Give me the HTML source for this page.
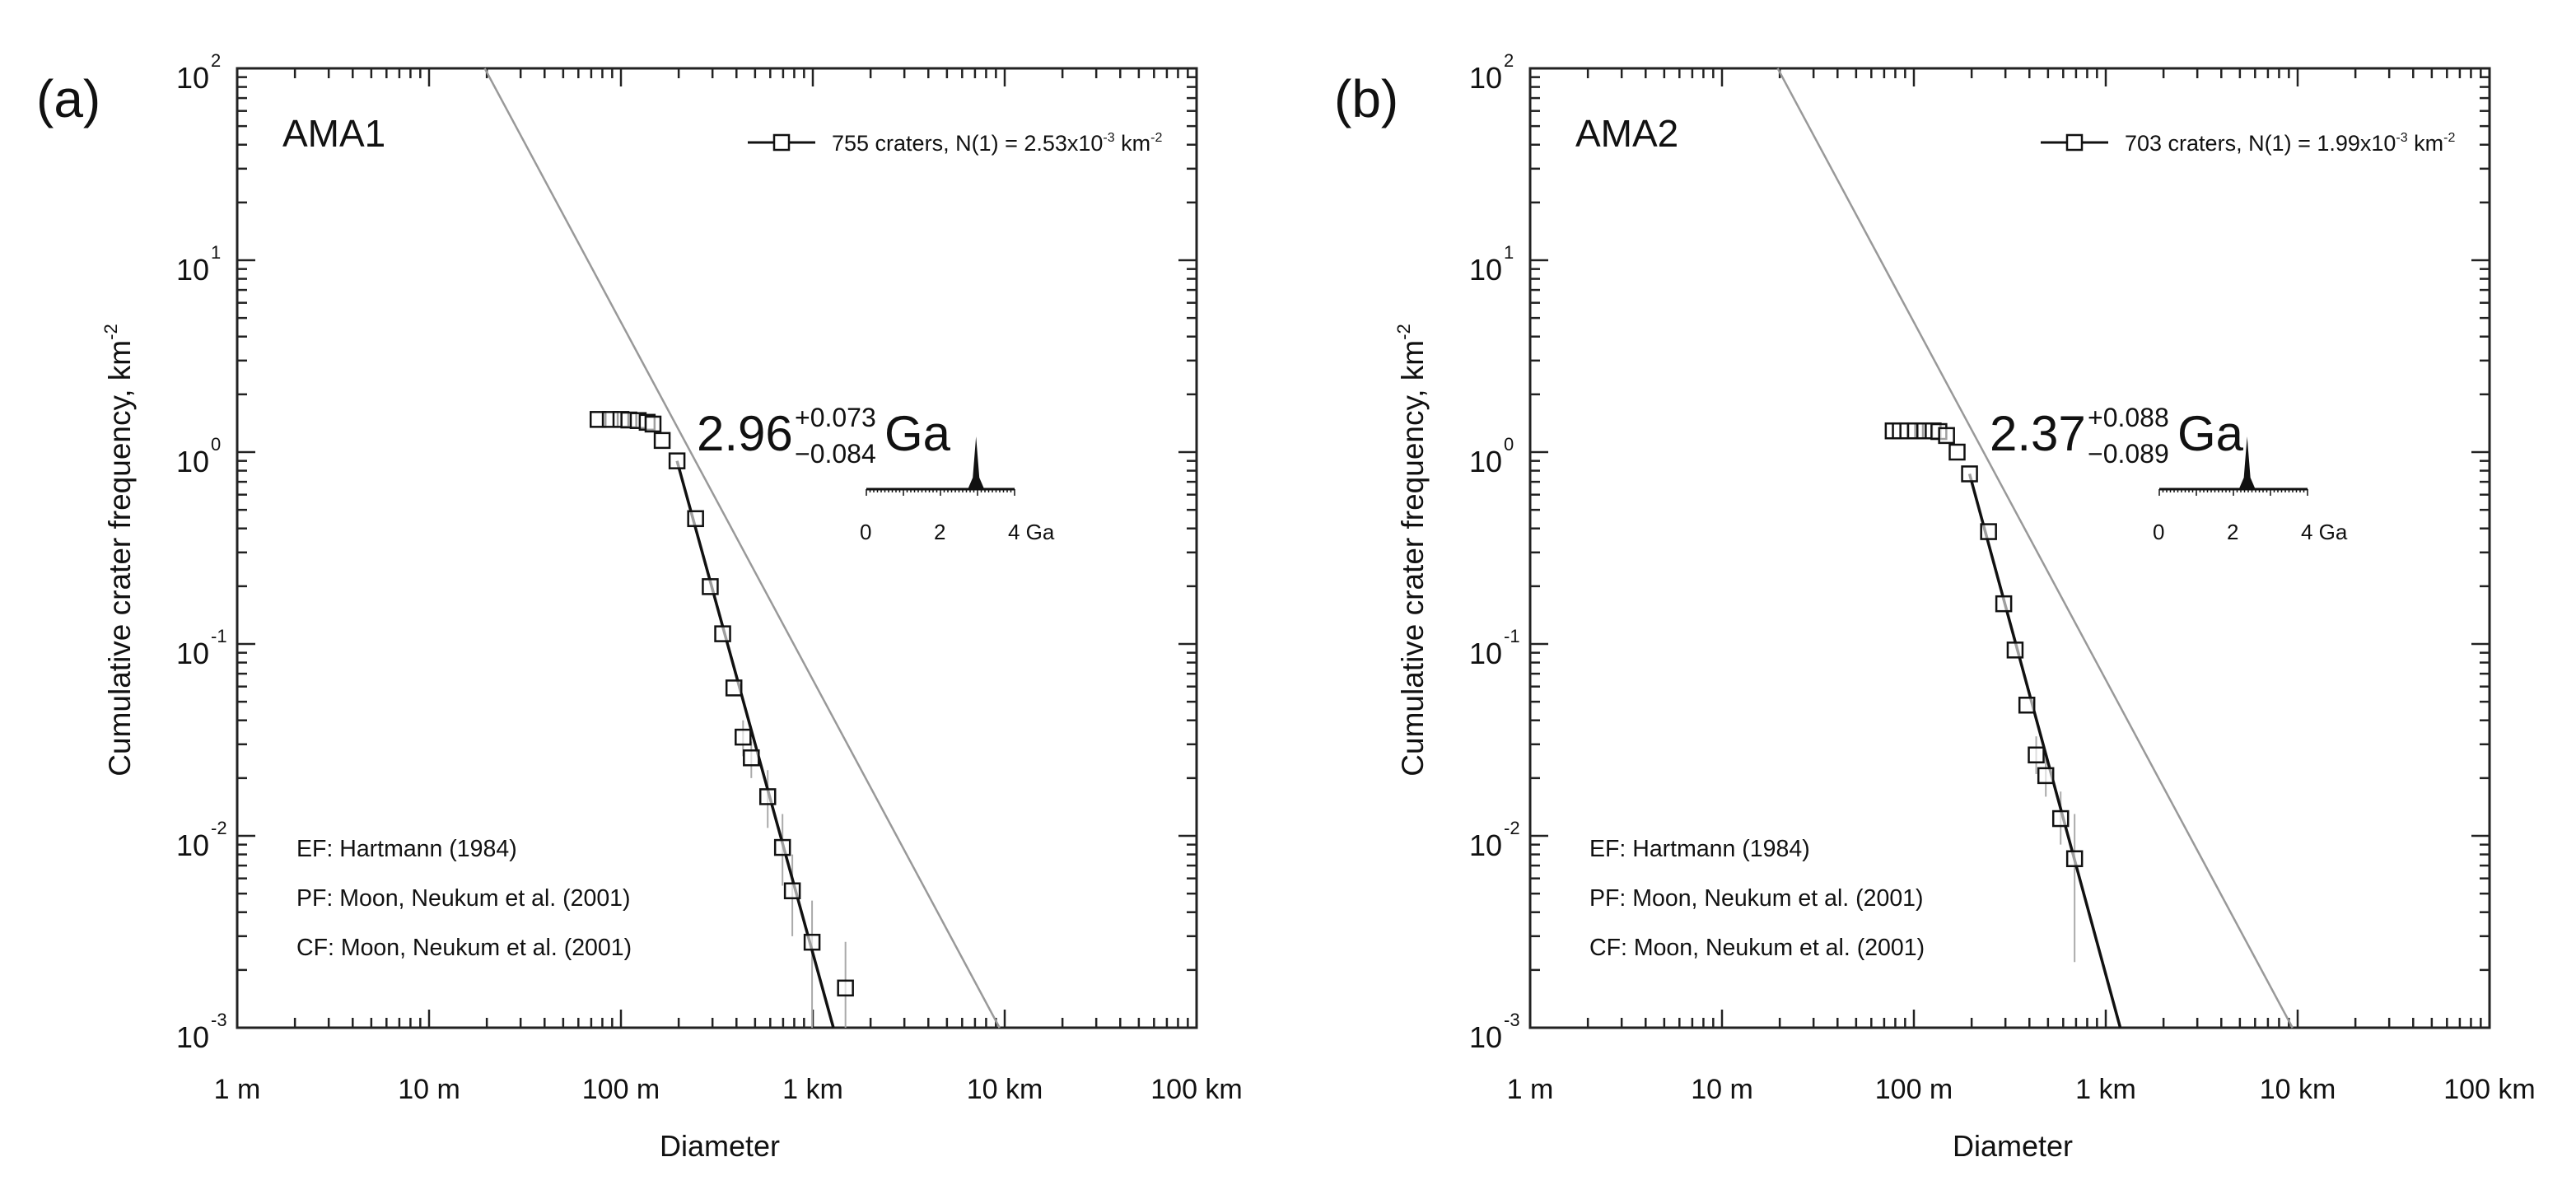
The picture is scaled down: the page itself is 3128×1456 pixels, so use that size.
<!DOCTYPE html>
<html><head><meta charset="utf-8"><style>
html,body{margin:0;padding:0;background:#fff;}
svg{display:block;font-family:"Liberation Sans",Arial,sans-serif;}
</style></head><body>
<svg id="fig" width="3128" height="1456" viewBox="0 0 3128 1456" xmlns="http://www.w3.org/2000/svg">
<rect x="0" y="0" width="3128" height="1456" fill="#fff"/>
</svg>
<script>
// ---- data (diameters in km, frequencies in km^-2) ----
const diamA = [0.076,0.088,0.100,0.110,0.123,0.137,0.147,0.164,0.196,0.245,0.292,0.339,0.388,0.433,0.478,0.582,0.695,0.782,0.991,1.48];
const freqA = [1.48,1.48,1.48,1.47,1.46,1.43,1.40,1.15,0.90,0.45,0.199,0.113,0.059,0.0327,0.0255,0.016,0.0087,0.00517,0.00279,0.00161];
const errLoA = [null,null,null,null,null,null,null,null,null,null,null,null,null,0.026,0.020,0.011,0.0055,0.0030,0.001,0.001];
const errHiA = [null,null,null,null,null,null,null,null,null,null,null,null,null,0.040,0.031,0.022,0.013,0.008,0.0046,0.0028];
const diamB = [0.078,0.085,0.093,0.102,0.114,0.126,0.135,0.148,0.168,0.195,0.245,0.294,0.337,0.388,0.434,0.487,0.582,0.688];
const freqB = [1.29,1.29,1.29,1.29,1.29,1.29,1.28,1.22,1.0,0.77,0.385,0.162,0.093,0.048,0.0264,0.0206,0.0123,0.0076];
const errLoB = [null,null,null,null,null,null,null,null,null,null,null,null,null,null,0.021,0.016,0.009,0.0022];
const errHiB = [null,null,null,null,null,null,null,null,null,null,null,null,null,null,0.033,0.026,0.017,0.013];
const fitA = [[0.196,0.90],[1.28,0.001]];
const fitB = [[0.195,0.77],[1.19,0.001]];
const refLine = [[0.0195,100],[9.4,0.001]];
const agesA = 2.96, agesB = 2.37;
const xTickLabels = ["1 m","10 m","100 m","1 km","10 km","100 km"];
const yTickExp = ["2","1","0","-1","-2","-3"];

const NS="http://www.w3.org/2000/svg";
const svg=document.getElementById('fig');
const DEC=233;
function mk(tag,attrs,parent){const e=document.createElementNS(NS,tag);for(const k in attrs)e.setAttribute(k,attrs[k]);(parent||svg).appendChild(e);return e;}

function panel(cfg){
  const L=cfg.left, T=83, S=DEC*5, R=L+S, B=T+S;
  const X=d=>L+(Math.log10(d*1000))*DEC;
  const Y=n=>T+(2-Math.log10(n))*DEC;
  const g=mk('g',{});
  
  
  let t=mk('text',{x:cfg.lblX,y:142,'font-size':64,fill:'#111'},g);t.textContent=cfg.letter;
  
  const tk=mk('g',{stroke:'#222','stroke-width':2.5},g);
  
  for(let dec=0;dec<5;dec++){
    for(let m=1;m<10;m++){
      const v=Math.log10(m)+dec, len=(m===1)?22:12;
      const px=L+v*DEC, py=B-v*DEC;
      mk('line',{x1:px,y1:B,x2:px,y2:B-len},tk);
      mk('line',{x1:px,y1:T,x2:px,y2:T+len},tk);
      mk('line',{x1:L,y1:py,x2:L+len,y2:py},tk);
      mk('line',{x1:R,y1:py,x2:R-len,y2:py},tk);
    }
  }
  const fr=mk('rect',{x:L,y:T,width:S,height:S,fill:'none',stroke:'#222','stroke-width':3},g);
  
  xTickLabels.forEach((s,i)=>{const e=mk('text',{x:L+i*DEC,y:1334,'font-size':34,'text-anchor':'middle',fill:'#111'},g);e.textContent=s;
    });
  yTickExp.forEach((s,i)=>{const e=mk('text',{x:L-34,y:T+i*DEC+24,'font-size':36,'text-anchor':'end',fill:'#111'},g);e.textContent='10';
    
    const sp=mk('text',{x:L-32,y:T+i*DEC-2,'font-size':22,fill:'#111'},g);sp.textContent=s;
    });
  let xt=mk('text',{x:L+586,y:1404,'font-size':36,'text-anchor':'middle',fill:'#111'},g);xt.textContent='Diameter';
  
  let yt=mk('text',{x:0,y:0,'font-size':37,'text-anchor':'middle',fill:'#111',transform:`translate(${L-130},668) rotate(-90)`},g);
  yt.innerHTML='Cumulative crater frequency, km<tspan dy="-16" font-size="22">-2</tspan>';
  
  let an=mk('text',{x:L+55,y:178,'font-size':46,fill:'#111'},g);an.textContent=cfg.area;
  
  const lg=mk('g',{},g);
  mk('line',{x1:L+620,y1:173,x2:L+702,y2:173,stroke:'#111','stroke-width':3},lg);
  mk('rect',{x:L+652,y:164,width:18,height:18,fill:'#fff',stroke:'#111','stroke-width':2.5},lg);
  let lt=mk('text',{x:L+722,y:183,'font-size':27,fill:'#111'},lg);
  lt.innerHTML=cfg.legend+'x10<tspan dy="-11" font-size="16">-3</tspan><tspan dy="11"> km</tspan><tspan dy="-11" font-size="16">-2</tspan>';
  ["EF: Hartmann (1984)","PF: Moon, Neukum et al. (2001)","CF: Moon, Neukum et al. (2001)"].forEach((s,i)=>{
    const e=mk('text',{x:L+72,y:1040+i*60,'font-size':28.5,fill:'#111'},g);e.textContent=s;
    });
  const rl=mk('line',{x1:X(refLine[0][0]),y1:Y(refLine[0][1]),x2:X(refLine[1][0]),y2:Y(refLine[1][1]),stroke:'#999','stroke-width':2.5},g);
  
  cfg.diam.forEach((d,i)=>{if(cfg.lo[i]==null)return;
    const e=mk('line',{x1:X(d),y1:Y(cfg.hi[i]),x2:X(d),y2:Math.min(B,Y(cfg.lo[i])),stroke:'#aaa','stroke-width':2},g);
    });
  const fl=mk('line',{x1:X(cfg.fit[0][0]),y1:Y(cfg.fit[0][1]),x2:X(cfg.fit[1][0]),y2:Y(cfg.fit[1][1]),stroke:'#111','stroke-width':3.5},g);
  
  cfg.diam.forEach((d,i)=>{
    const p=mk('rect',{x:X(d)-9,y:Y(cfg.freq[i])-9,width:18,height:18,fill:'#fff','fill-opacity':0.6,stroke:'#111','stroke-width':2.5},g);
    });
  const at=mk('g',{},g);
  let a1=mk('text',{x:L+558,y:547,'font-size':60,fill:'#111'},at);a1.textContent=cfg.age.toFixed(2);
  let a2=mk('text',{x:L+677,y:518,'font-size':32,fill:'#111'},at);a2.textContent=cfg.up;
  let a3=mk('text',{x:L+677,y:562,'font-size':32,fill:'#111'},at);a3.textContent=cfg.dn;
  let a4=mk('text',{x:L+786,y:547,'font-size':60,fill:'#111'},at);a4.textContent='Ga';
  const ins=mk('g',{},g);
  const ix0=L+764, iw=180, iy=594;
  mk('line',{x1:ix0,y1:iy,x2:ix0+iw,y2:iy,stroke:'#111','stroke-width':3},ins);
  for(let k=0;k<=40;k++){const len=(k%10===0)?8:4;mk('line',{x1:ix0+k*iw/40,y1:iy,x2:ix0+k*iw/40,y2:iy+len,stroke:'#111','stroke-width':1.5},ins);}
  const pk=ix0+cfg.age*iw/4;
  mk('path',{d:`M${pk-10},${iy} L${pk-4},${iy-14} L${pk},${iy-64} L${pk+4},${iy-14} L${pk+10},${iy} Z`,fill:'#111'},ins);
  [["0",0],["2",2],["4 Ga",4]].forEach(([s,v])=>{const e=mk('text',{x:ix0+v*iw/4-8,y:655,'font-size':26,fill:'#111'},ins);e.textContent=s;});
}
panel({name:'panel-a-ama1',letter:'(a)',lblX:44,left:288,area:'AMA1',legend:'755 craters, N(1) = 2.53',diam:diamA,freq:freqA,lo:errLoA,hi:errHiA,fit:fitA,age:agesA,up:'+0.073',dn:'\u22120.084'});
panel({name:'panel-b-ama2',letter:'(b)',lblX:1620,left:1858,area:'AMA2',legend:'703 craters, N(1) = 1.99',diam:diamB,freq:freqB,lo:errLoB,hi:errHiB,fit:fitB,age:agesB,up:'+0.088',dn:'\u22120.089'});
</script>
</body></html>
